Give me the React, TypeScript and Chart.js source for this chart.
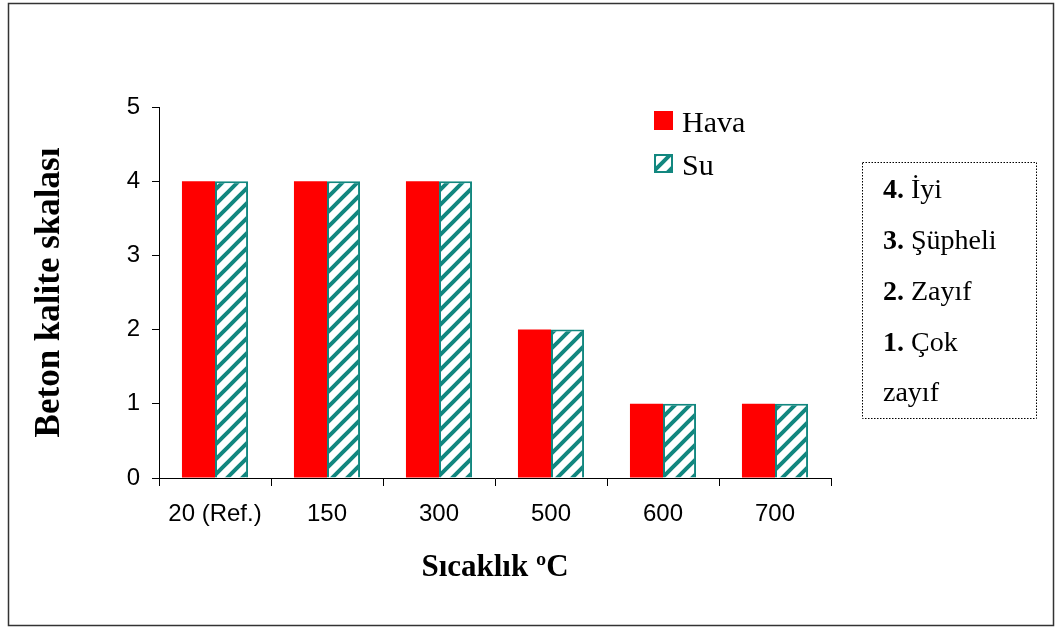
import React, { useEffect, useRef } from "react";
import { Chart, registerables } from "chart.js";

Chart.register(...registerables);

const categories = ["20 (Ref.)", "150", "300", "500", "600", "700"];
const havaValues = [4, 4, 4, 2, 1, 1];
const suValues = [4, 4, 4, 2, 1, 1];
const seriesLabels = ["Hava", "Su"];
const yMin = 0;
const yMax = 5;
const yStep = 1;
const yTitle = "Beton kalite skalası";
const xTitle = "Sıcaklık ºC";
const qualityNums = ["4.", "3.", "2.", "1.", ""];
const qualityTexts = [" İyi", " Şüpheli", " Zayıf", " Çok", "zayıf"];

const RED = "#FF0000";
const TEAL = "#12877F";
const SERIF = "'Liberation Serif', 'Times New Roman', serif";
const SANS = "'Liberation Sans', Arial, sans-serif";

function makeHatch(): CanvasPattern | string {
  const s = 15;
  const c = document.createElement("canvas");
  c.width = s;
  c.height = s;
  const g = c.getContext("2d");
  if (!g) return "#fff";
  g.fillStyle = "#fff";
  g.fillRect(0, 0, s, s);
  g.strokeStyle = TEAL;
  g.lineWidth = 4;
  g.beginPath();
  g.moveTo(-s / 2, s / 2);
  g.lineTo(s / 2, -s / 2);
  g.moveTo(0, s);
  g.lineTo(s, 0);
  g.moveTo(s / 2, s * 1.5);
  g.lineTo(s * 1.5, s / 2);
  g.stroke();
  return g.createPattern(c, "repeat") || "#fff";
}

export default function App() {
  const ref = useRef<HTMLCanvasElement | null>(null);

  useEffect(() => {
    document.body.style.margin = "0";
    const canvas = ref.current;
    if (!canvas) return;
    const hatch = makeHatch();

    const decor = {
      id: "decor",
      afterDraw(chart: any) {
        const ctx: CanvasRenderingContext2D = chart.ctx;
        ctx.save();
        // outer frame
        ctx.strokeStyle = "#333";
        ctx.lineWidth = 1.5;
        ctx.strokeRect(8.5, 3.5, 1045, 622);

        // legend
        const ds = chart.data.datasets;
        const lx = 654;
        const rows = [111, 154];
        ds.forEach((d: any, i: number) => {
          const y = rows[i];
          ctx.fillStyle = d.backgroundColor;
          ctx.fillRect(lx, y, 19, 19);
          if (d.borderWidth) {
            ctx.strokeStyle = d.borderColor;
            ctx.lineWidth = 2;
            ctx.strokeRect(lx + 1, y + 1, 17, 17);
          }
          ctx.fillStyle = "#000";
          ctx.font = `30px ${SERIF}`;
          ctx.textBaseline = "alphabetic";
          ctx.textAlign = "left";
          ctx.fillText(d.label, 682, y + 20.5);
        });

        // quality scale box
        ctx.setLineDash([1.5, 1.5]);
        ctx.lineWidth = 1;
        ctx.strokeStyle = "#000";
        ctx.strokeRect(862.5, 162.5, 174, 256);
        ctx.setLineDash([]);
        const baselines = [198, 249, 300, 351, 401];
        qualityNums.forEach((n, i) => {
          let x = 883;
          ctx.fillStyle = "#000";
          if (n) {
            ctx.font = `bold 28px ${SERIF}`;
            ctx.fillText(n, x, baselines[i]);
            x += ctx.measureText(n).width;
          }
          ctx.font = `28px ${SERIF}`;
          ctx.fillText(qualityTexts[i], x, baselines[i]);
        });
        ctx.restore();
      },
    };

    const chart = new Chart(canvas, {
      type: "bar",
      data: {
        labels: categories,
        datasets: [
          {
            label: seriesLabels[0],
            data: havaValues,
            backgroundColor: RED,
            borderWidth: 0,
          },
          {
            label: seriesLabels[1],
            data: suValues,
            backgroundColor: hatch as any,
            borderColor: TEAL,
            borderWidth: 2,
          },
        ],
      },
      options: {
        responsive: false,
        animation: false,
        devicePixelRatio: 1,
        layout: { padding: { left: 8, top: 107, right: 230, bottom: 0 } },
        datasets: { bar: { categoryPercentage: 0.59, barPercentage: 1 } },
        plugins: {
          legend: { display: false },
          tooltip: { enabled: false },
          title: { display: false },
        },
        scales: {
          x: {
            offset: true,
            ticks: {
              padding: 14,
              color: "#000",
              maxRotation: 0,
              autoSkip: false,
              font: { family: SANS, size: 24 },
            },
            grid: { offset: true, drawOnChartArea: false, tickLength: 8, color: "#000" },
            border: { color: "#000", width: 1 },
            title: {
              display: true,
              text: xTitle,
              color: "#000",
              font: { family: SERIF, size: 31, weight: "bold" },
              padding: { top: 0, bottom: 41 },
            },
            afterFit: (s: any) => {
              s.height = 150;
            },
          },
          y: {
            min: yMin,
            max: yMax,
            ticks: {
              stepSize: yStep,
              padding: 12,
              color: "#000",
              font: { family: SANS, size: 24 },
            },
            grid: { drawOnChartArea: false, tickLength: 7, color: "#000" },
            border: { color: "#000", width: 1 },
            title: {
              display: true,
              text: yTitle,
              color: "#000",
              font: { family: SERIF, size: 35, weight: "bold" },
              padding: { top: 21, bottom: 0 },
            },
            afterFit: (s: any) => {
              s.width = 151;
            },
          },
        },
      } as any,
      plugins: [decor],
    });
    return () => chart.destroy();
  }, []);

  return (
    <div style={{ width: 1061, height: 628 }}>
      <canvas ref={ref} width={1061} height={628} style={{ display: "block", width: 1061, height: 628 }} />
    </div>
  );
}
